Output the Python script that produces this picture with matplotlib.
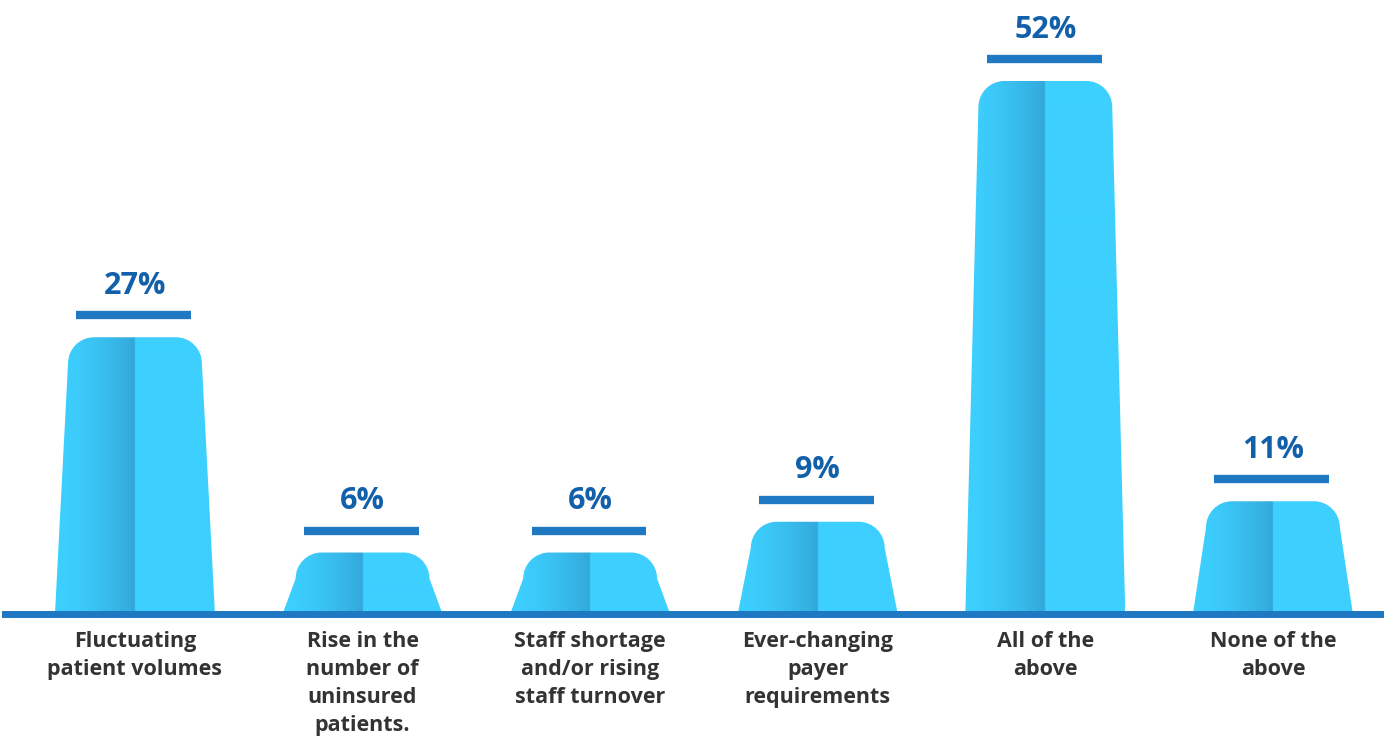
import numpy as np
import matplotlib
matplotlib.use("Agg")
import matplotlib.pyplot as plt
import matplotlib.transforms as mtransforms
from matplotlib.path import Path
from matplotlib.patches import PathPatch
from matplotlib.colors import to_rgb

categories = [
    "Fluctuating\npatient volumes",
    "Rise in the\nnumber of\nuninsured\npatients.",
    "Staff shortage\nand/or rising\nstaff turnover",
    "Ever-changing\npayer\nrequirements",
    "All of the\nabove",
    "None of the\nabove",
]
values = [27, 6, 6, 9, 52, 11]
value_labels = [f"{v}%" for v in values]

LIGHT = "#3DD0FF"
DARK = "#33A8DA"
LINE_BLUE = "#1E78C2"
TEXT_BLUE = "#1260AA"
LABEL_GRAY = "#333333"

plt.rcParams["font.family"] = ["Open Sans", "DejaVu Sans"]

fig = plt.figure(figsize=(13.89, 7.40), dpi=100)
ax = fig.add_axes([0, 0, 1, 1])
ax.axis("off")

half_bottom = 0.3515
half_top = 0.294
rx, ry = 0.114, 2.54
k = 0.5523

# horizontal shading: left half darkens toward the centre, right half flat
light = np.array(to_rgb(LIGHT))
dark = np.array(to_rgb(DARK))
cols = np.linspace(0, 1, 400)
grad = np.empty((1, cols.size, 3))
for j, t in enumerate(cols):
    if t < 0.5:
        s = (t / 0.5) ** 1.6
        grad[0, j] = light * (1 - s) + dark * s
    else:
        grad[0, j] = light

for i, v in enumerate(values):
    c = i
    verts = [
        (c - half_bottom, 0),
        (c - half_top, v - ry),
        (c - half_top, v - ry + k * ry),
        (c - half_top + rx - k * rx, v),
        (c - half_top + rx, v),
        (c + half_top - rx, v),
        (c + half_top - rx + k * rx, v),
        (c + half_top, v - ry + k * ry),
        (c + half_top, v - ry),
        (c + half_bottom, 0),
        (c - half_bottom, 0),
    ]
    codes = [Path.MOVETO, Path.LINETO, Path.CURVE4, Path.CURVE4, Path.CURVE4,
             Path.LINETO, Path.CURVE4, Path.CURVE4, Path.CURVE4,
             Path.LINETO, Path.CLOSEPOLY]
    patch = PathPatch(Path(verts, codes), facecolor="none", edgecolor="none")
    ax.add_patch(patch)
    im = ax.imshow(grad, extent=(c - half_bottom, c + half_bottom, 0, v),
                   aspect="auto", interpolation="bilinear", zorder=2)
    im.set_clip_path(patch)

    line_trans = mtransforms.offset_copy(ax.transData, fig=fig, y=22, units="dots")
    ax.plot([c - 0.257, c + 0.247], [v, v], color=LINE_BLUE, lw=6,
            solid_capstyle="butt", transform=line_trans, zorder=3)
    ax.annotate(value_labels[i], (c, v), xytext=(0, 37), textcoords="offset points",
                ha="center", va="center", fontsize=22, fontweight="bold",
                color=TEXT_BLUE)
    ax.annotate(categories[i], (c, 0), xytext=(0, -12), textcoords="offset points",
                ha="center", va="top", fontsize=15.5, fontweight="bold",
                color=LABEL_GRAY, linespacing=1.45)

ax.axhline(0, xmin=0.0036, xmax=0.9935, color=LINE_BLUE, lw=5, zorder=4)

ax.set_xlim(-0.593, 5.51)
ax.set_ylim(-12.29, 59.9)
fig.savefig("out.png", dpi=100)
